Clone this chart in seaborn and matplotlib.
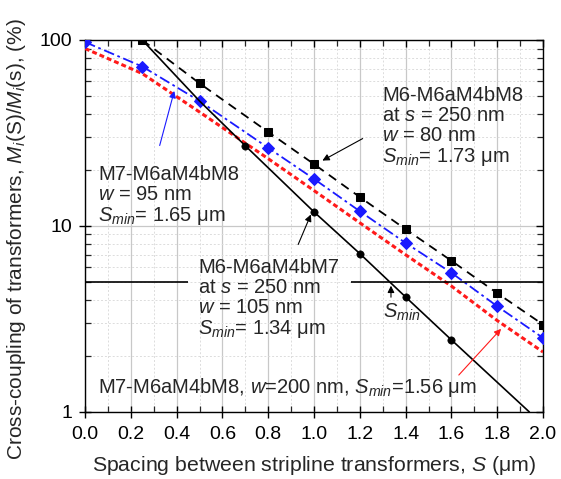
import numpy as np
import matplotlib
matplotlib.use("Agg")
import matplotlib.pyplot as plt
import seaborn as sns
from matplotlib.ticker import MultipleLocator, LogLocator, FixedLocator, NullFormatter

# ---- data ----
x_sq = [0.25, 0.5, 0.8, 1.0, 1.2, 1.4, 1.6, 1.8, 2.0]
y_sq = [100, 58.5, 32, 21.5, 14.3, 9.6, 6.5, 4.35, 2.95]

x_dia = [0.0, 0.25, 0.5, 0.8, 1.0, 1.2, 1.4, 1.6, 1.8, 2.0]
y_dia = [97.5, 72, 47, 26.3, 17.9, 12.0, 8.1, 5.6, 3.7, 2.5]

x_red = [0.0, 0.25, 0.5, 0.8, 1.0, 1.2, 1.4, 1.6, 1.8, 2.0]
y_red = [90, 66, 41, 23, 15.5, 10.4, 7.0, 4.75, 3.1, 2.1]

x_circ_line = [0.25, 0.5, 0.7, 1.0, 1.2, 1.4, 1.6, 1.94]
y_circ_line = [100, 47, 27, 11.9, 7.1, 4.15, 2.44, 1.0]
x_circ = [0.7, 1.0, 1.2, 1.4, 1.6]
y_circ = [27, 11.9, 7.1, 4.15, 2.44]

s_min_level = 5
x_ticks = [0.0, 0.2, 0.4, 0.6, 0.8, 1.0, 1.2, 1.4, 1.6, 1.8, 2.0]
x_ticklabels = ["0.0", "0.2", "0.4", "0.6", "0.8", "1.0", "1.2", "1.4", "1.6", "1.8", "2.0"]
y_ticks = [1, 10, 100]
y_ticklabels = ["1", "10", "100"]

# ---- style ----
sns.set_style("ticks")
FONT = "Liberation Sans"
plt.rcParams["font.family"] = [FONT, "DejaVu Sans"]
plt.rcParams["mathtext.fontset"] = "custom"
plt.rcParams["mathtext.rm"] = FONT
plt.rcParams["mathtext.it"] = FONT + ":italic"
plt.rcParams["mathtext.bf"] = FONT + ":bold"

fig = plt.figure(figsize=(5.61, 4.79), dpi=100)
ax = fig.add_axes([0.1515, 0.140, 0.8165, 0.7765])

ax.set_yscale("log")
ax.set_xlim(0, 2.0)
ax.set_ylim(1, 100)
ax.xaxis.set_major_locator(FixedLocator(x_ticks))
ax.set_xticklabels(x_ticklabels)
ax.xaxis.set_minor_locator(MultipleLocator(0.1))
ax.yaxis.set_major_locator(FixedLocator(y_ticks))
ax.set_yticklabels(y_ticklabels)
ax.yaxis.set_minor_locator(LogLocator(base=10, subs=np.arange(2, 10)))
ax.yaxis.set_minor_formatter(NullFormatter())
ax.grid(True, which="major", color="#c8c8c8", lw=0.9, ls="-", zorder=0)
ax.grid(True, which="minor", color="#dcdcdc", lw=0.7, ls=(0, (2, 2)), zorder=0)
ax.set_axisbelow(True)

# lines
sns.lineplot(x=x_red, y=y_red, ax=ax, color="#ff1a1a", lw=2.2,
             linestyle=(0, (1.6, 1.0)), zorder=3)
sns.lineplot(x=x_dia, y=y_dia, ax=ax, color="#1a1aff", lw=1.3,
             linestyle=(0, (6, 2, 1.5, 2)), marker="D", markersize=6.3,
             markeredgecolor="#1a1aff", zorder=4)
sns.lineplot(x=x_sq, y=y_sq, ax=ax, color="black", lw=1.3,
             linestyle=(0, (5, 3.5)), marker="s", markersize=5.5,
             markeredgecolor="black", zorder=4)
sns.lineplot(x=x_circ_line, y=y_circ_line, ax=ax, color="black", lw=1.2,
             linestyle="-", zorder=4, sort=False)
sns.scatterplot(x=x_circ, y=y_circ, ax=ax, color="black", s=28,
                edgecolor="black", zorder=5)

# Smin horizontal line
ax.hlines(s_min_level, 0.0, 0.45, color="black", lw=1.2, zorder=4)
ax.hlines(s_min_level, 1.16, 2.0, color="black", lw=1.2, zorder=4)

# axes styling
for sp in ax.spines.values():
    sp.set_visible(True)
    sp.set_color("black")
    sp.set_linewidth(1.0)
ax.tick_params(which="major", direction="inout", length=8, width=1.0,
               labelsize=14, colors="black", top=True, right=True)
ax.tick_params(axis="x", which="major", pad=6)
ax.tick_params(axis="y", which="major", pad=5)
ax.tick_params(which="minor", direction="in", length=4, width=0.9,
               top=True, right=True)
for t in ax.xaxis.get_major_ticks():
    t.tick2line.set_marker(3)
    t.tick2line.set_markersize(5)
for t in ax.yaxis.get_major_ticks():
    t.tick2line.set_marker(0)
    t.tick2line.set_markersize(5)

ax.set_xlabel("Spacing between stripline transformers, $S$ (\u03bcm)", fontsize=15.3, labelpad=8)
ax.set_ylabel("Cross-coupling of transformers, $M_i$(S)/$M_i$(s), (%)", fontsize=15.0)
ax.yaxis.set_label_coords(-0.124, 0.466)

# annotations
TS = 14.5
LS = 1.08
ax.text(1.297, 34, "M6-M6aM4bM8\nat $s$ = 250 nm\n$w$ = 80 nm\n$S_{min}$= 1.73 \u03bcm",
        fontsize=TS, va="center", ha="left", zorder=6, linespacing=LS)
ax.annotate("", xy=(1.026, 22.1), xytext=(1.223, 30),
            arrowprops=dict(arrowstyle="-|>", color="black", lw=0.8, mutation_scale=10), zorder=6)

ax.text(0.057, 14.5, "M7-M6aM4bM8\n$w$ = 95 nm\n$S_{min}$= 1.65 \u03bcm",
        fontsize=TS, va="center", ha="left", zorder=6, linespacing=LS)
ax.annotate("", xy=(0.393, 55), xytext=(0.323, 26.2),
            arrowprops=dict(arrowstyle="-|>", color="#1a1aff", lw=0.8, mutation_scale=10), zorder=6)

ax.text(0.493, 4.05, "M6-M6aM4bM7\nat $s$ = 250 nm\n$w$ = 105 nm\n$S_{min}$= 1.34 \u03bcm",
        fontsize=TS, va="center", ha="left", zorder=6, linespacing=LS)
ax.annotate("", xy=(0.991, 11.9), xytext=(0.926, 7.7),
            arrowprops=dict(arrowstyle="-|>", color="black", lw=0.8, mutation_scale=10), zorder=6)

ax.text(1.30, 3.45, "$S_{min}$", fontsize=TS, va="center", ha="left", zorder=6)
ax.annotate("", xy=(1.336, 4.94), xytext=(1.336, 4.0),
            arrowprops=dict(arrowstyle="-|>", color="black", lw=0.8, mutation_scale=10), zorder=6)

ax.text(0.057, 1.36, "M7-M6aM4bM8, $w$=200 nm, $S_{min}$=1.56 \u03bcm",
        fontsize=TS, va="center", ha="left", zorder=6)
ax.annotate("", xy=(1.825, 2.87), xytext=(1.624, 1.54),
            arrowprops=dict(arrowstyle="-|>", color="#ff1a1a", lw=0.8, mutation_scale=10), zorder=6)

fig.savefig("out.png", dpi=100)
